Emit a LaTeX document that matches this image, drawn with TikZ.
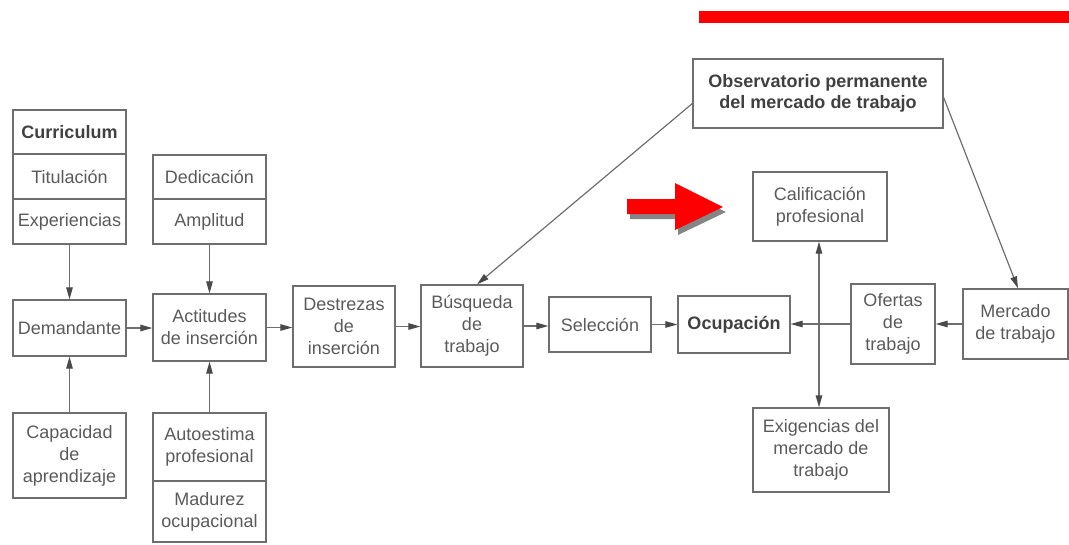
\documentclass[tikz,border=0pt]{standalone}
\usepackage{fontspec}
\setmainfont{Liberation Sans}
\usetikzlibrary{arrows.meta}
\definecolor{linec}{HTML}{6E6E6E}
\definecolor{tipc}{HTML}{4A4A4A}
\definecolor{textc}{HTML}{5A5A5A}
\definecolor{boldc}{HTML}{404040}
\definecolor{shadowc}{HTML}{858585}
\begin{document}
\begin{tikzpicture}[x=1pt,y=-1pt,
  box/.style={draw=linec, line width=1.3pt, inner sep=0pt, align=center,
    text=textc, font=\fontsize{18}{22}\selectfont},
  bbox/.style={box, text=boldc, font=\fontsize{18}{21}\selectfont\bfseries},
  tip/.style={Triangle[length=12pt,width=6.5pt,color=tipc]},
  arr/.style={draw=linec, line width=1.2pt, -{Triangle[length=12pt,width=6.5pt,color=tipc]}},
  darr/.style={draw=linec, line width=1.2pt,
    {Triangle[length=12pt,width=6.5pt,color=tipc]}-{Triangle[length=12pt,width=6.5pt,color=tipc]}}]
\useasboundingbox (0,0) rectangle (1069,544);

% left column: curriculum stack
\node[bbox, minimum width=113pt, minimum height=44pt] (curr) at (69.5,132) {Curriculum};
\node[box,  minimum width=113pt, minimum height=45pt] (titu) at (69.5,176.5) {Titulación};
\node[box,  minimum width=113pt, minimum height=45pt] (expe) at (69.5,221.5) {Experiencias};
\node[box,  minimum width=113pt, minimum height=56pt] (dema) at (69.5,328) {Demandante};
\node[box,  minimum width=113pt, minimum height=85pt] (capa) at (69.5,455.5) {Capacidad\\de\\aprendizaje};

% second column
\node[box, minimum width=113pt, minimum height=44pt] (dedi) at (209.5,177) {Dedicación};
\node[box, minimum width=113pt, minimum height=45pt] (ampl) at (209.5,221.5) {Amplitud};
\node[box, minimum width=113pt, minimum height=67pt] (acti) at (209.5,327.5) {Actitudes\\de inserción};
\node[box, minimum width=113pt, minimum height=68pt] (auto) at (209.5,447) {Autoestima\\profesional};
\node[box, minimum width=113pt, minimum height=61pt] (madu) at (209.5,511.5) {Madurez\\ocupacional};

% main chain
\node[box,  minimum width=102pt, minimum height=81pt] (dest) at (344,326.5) {Destrezas\\de\\inserción};
\node[box,  minimum width=102pt, minimum height=82pt] (busq) at (472,326) {Búsqueda\\de\\trabajo};
\node[box,  minimum width=102pt, minimum height=55pt] (sele) at (600,324.5) {Selección};
\node[bbox, minimum width=112pt, minimum height=57pt] (ocup) at (734,324.5) {Ocupación};
\node[box,  minimum width=84pt,  minimum height=80pt] (ofer) at (893,324) {Ofertas\\de\\trabajo};
\node[box,  minimum width=105pt, minimum height=70pt] (merc) at (1015.5,324) {Mercado\\de trabajo};

% right block
\node[bbox, minimum width=250pt, minimum height=69pt] (obse) at (818,93.5) {Observatorio permanente\\del mercado de trabajo};
\node[box,  minimum width=134pt, minimum height=69pt] (cali) at (820,206.5) {Calificación\\profesional};
\node[box,  minimum width=136pt, minimum height=84pt] (exig) at (821,450) {Exigencias del\\mercado de\\trabajo};

% connectors
\draw[arr] (expe.south) -- (dema.north);
\draw[arr] (ampl.south) -- (acti.north);
\draw[arr] (capa.north) -- (dema.south);
\draw[arr] (auto.north) -- (acti.south);
\draw[arr] (dema.east) -- (dema.east -| acti.west);
\draw[arr] (acti.east) -- (acti.east -| dest.west);
\draw[arr] (dest.east) -- (dest.east -| busq.west);
\draw[arr] (busq.east) -- (busq.east -| sele.west);
\draw[arr] (sele.east) -- (sele.east -| ocup.west);
\draw[arr] (merc.west) -- (merc.west -| ofer.east);
\draw[arr] (ofer.west) -- (ofer.west -| ocup.east);
\draw[darr] ([xshift=-1pt]cali.south) -- ([xshift=-1pt]cali.south |- exig.north);
\draw[arr] ([yshift=-10pt]obse.west) -- ([xshift=5pt]busq.north);
\draw[arr] ([yshift=-4pt]obse.east) -- ([xshift=2.5pt]merc.north);

% red marker bar and pointer arrow
\fill[red] (699,11) rectangle (1069,23);
\fill[shadowc, shift={(3pt,-5pt)}] (627,199) -- (675,199) -- (675,183) -- (723,207)
  -- (675,230) -- (675,214) -- (627,214) -- cycle;
\fill[red] (627,199) -- (675,199) -- (675,183) -- (723,207)
  -- (675,230) -- (675,214) -- (627,214) -- cycle;
\end{tikzpicture}
\end{document}
